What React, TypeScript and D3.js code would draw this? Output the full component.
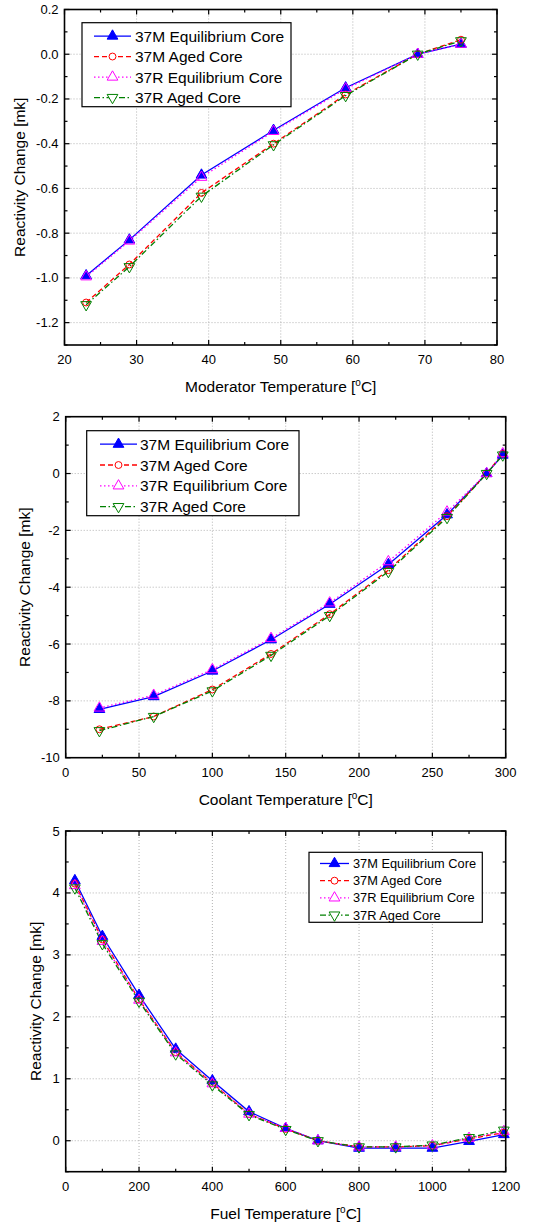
import React from 'react';
import * as d3 from 'd3';

// ---- data ----
const seriesNames = ['37M Equilibrium Core', '37M Aged Core', '37R Equilibrium Core', '37R Aged Core'];

// moderator temperature panel
const modTemp = [23, 29, 39, 49, 59, 69, 75];
const mod37MEq = [-0.99, -0.83, -0.54, -0.34, -0.15, 0.0, 0.045];
const mod37MAged = [-1.11, -0.94, -0.62, -0.4, -0.18, 0.0, 0.065];
const mod37REq = [-0.995, -0.835, -0.55, -0.345, -0.155, 0.0, 0.045];
const mod37RAged = [-1.12, -0.95, -0.635, -0.405, -0.185, 0.0, 0.06];
const modXTicks = [20, 30, 40, 50, 60, 70, 80];
const modYTicks = [-1.2, -1.0, -0.8, -0.6, -0.4, -0.2, 0.0, 0.2];

// coolant temperature panel
const coolTemp = [23, 60, 100, 140, 180, 220, 260, 287, 298];
const cool37MEq = [-8.3, -7.85, -6.95, -5.85, -4.6, -3.2, -1.45, 0.0, 0.65];
const cool37MAged = [-9.0, -8.55, -7.6, -6.35, -4.95, -3.4, -1.5, 0.0, 0.7];
const cool37REq = [-8.25, -7.8, -6.9, -5.8, -4.55, -3.1, -1.35, 0.0, 0.7];
const cool37RAged = [-9.05, -8.55, -7.65, -6.4, -5.0, -3.45, -1.55, 0.0, 0.65];
const coolXTicks = [0, 50, 100, 150, 200, 250, 300];
const coolYTicks = [-10, -8, -6, -4, -2, 0, 2];

// fuel temperature panel
const fuelTemp = [25, 100, 200, 300, 400, 500, 600, 688, 800, 900, 1000, 1100, 1195];
const fuel37MEq = [4.2, 3.3, 2.35, 1.48, 0.97, 0.47, 0.2, 0.0, -0.12, -0.12, -0.12, -0.01, 0.1];
const fuel37MAged = [4.15, 3.25, 2.28, 1.43, 0.93, 0.43, 0.19, 0.0, -0.1, -0.1, -0.08, 0.03, 0.13];
const fuel37REq = [4.12, 3.22, 2.27, 1.42, 0.92, 0.43, 0.2, 0.0, -0.1, -0.1, -0.08, 0.04, 0.15];
const fuel37RAged = [4.08, 3.18, 2.25, 1.4, 0.9, 0.42, 0.18, 0.0, -0.1, -0.1, -0.07, 0.05, 0.17];
const fuelXTicks = [0, 200, 400, 600, 800, 1000, 1200];
const fuelYTicks = [0, 1, 2, 3, 4, 5];

// ---- styles ----
const colors = ['#0000ff', '#ff0000', '#ff00ff', '#008000'];
const dashes = ['none', '5,3', '1.5,2.5', '6,2.5,1.5,2.5'];
const FONT = 'Arial, "Liberation Sans", Helvetica, sans-serif';

const marker = (i: number, s: number) => {
  if (i === 1) return d3.symbol(d3.symbolCircle, s * 0.75)() as string;
  return d3.symbol(d3.symbolTriangle, s)() as string;
};

type PanelProps = {
  xs: number[];
  series: number[][];
  box: { l: number; r: number; t: number; b: number };
  xDomain: [number, number];
  yDomain: [number, number];
  xTicks: number[];
  yTicks: number[];
  xMinorStep: number;
  yMinorStep: number;
  yFmt: (v: number) => string;
  xTitle: string;
  xTitleY: number;
  yTitleX: number;
  legend: { l: number; r: number; t: number; b: number; rowH: number; font: number; lineX0: number; lineX1: number; textX: number };
};

const Panel = (p: PanelProps) => {
  const { box } = p;
  const x = d3.scaleLinear().domain(p.xDomain).range([box.l, box.r]);
  const y = d3.scaleLinear().domain(p.yDomain).range([box.b, box.t]);
  const xMinor = d3.range(p.xDomain[0], p.xDomain[1] + 1e-9, p.xMinorStep);
  const yMinor = d3.range(Math.ceil(p.yDomain[0] / p.yMinorStep - 1e-9) * p.yMinorStep, p.yDomain[1] + 1e-9, p.yMinorStep);
  const isMajorX = (v: number) => p.xTicks.some(t => Math.abs(t - v) < 1e-6);
  const isMajorY = (v: number) => p.yTicks.some(t => Math.abs(t - v) < 1e-6);
  const line = d3.line<number>().x((_, i) => x(p.xs[i])).y(d => y(d));
  const lg = p.legend;

  return (
    <g fontFamily={FONT}>
      {/* grid */}
      {p.xTicks.filter(t => t > p.xDomain[0] && t < p.xDomain[1]).map(t => (
        <line key={'gx' + t} x1={x(t)} x2={x(t)} y1={box.t} y2={box.b} stroke="#a0a0a0" strokeWidth={0.8} strokeDasharray="1,2" />
      ))}
      {p.yTicks.filter(t => t > p.yDomain[0] && t < p.yDomain[1]).map(t => (
        <line key={'gy' + t} x1={box.l} x2={box.r} y1={y(t)} y2={y(t)} stroke="#a0a0a0" strokeWidth={0.8} strokeDasharray="1,2" />
      ))}

      {/* series */}
      {p.series.map((s, i) => (
        <path key={'l' + i} d={line(s) as string} fill="none" stroke={colors[i]} strokeWidth={1.3} strokeDasharray={dashes[i]} />
      ))}
      {p.series.map((s, i) =>
        s.map((v, j) => (
          <path
            key={'m' + i + '-' + j}
            d={marker(i, 50)}
            transform={`translate(${x(p.xs[j])},${y(v)})${i === 3 ? ' rotate(180)' : ''}`}
            fill={i === 0 ? colors[0] : 'none'}
            stroke={colors[i]}
            strokeWidth={1}
          />
        ))
      )}

      {/* ticks, inward on all sides */}
      {xMinor.map(v => {
        const len = isMajorX(v) ? 5 : 3;
        return (
          <g key={'tx' + v}>
            <line x1={x(v)} x2={x(v)} y1={box.b} y2={box.b - len} stroke="#000" strokeWidth={1.2} />
            <line x1={x(v)} x2={x(v)} y1={box.t} y2={box.t + len} stroke="#000" strokeWidth={1.2} />
          </g>
        );
      })}
      {yMinor.map(v => {
        const len = isMajorY(v) ? 5 : 3;
        return (
          <g key={'ty' + v}>
            <line x1={box.l} x2={box.l + len} y1={y(v)} y2={y(v)} stroke="#000" strokeWidth={1.2} />
            <line x1={box.r} x2={box.r - len} y1={y(v)} y2={y(v)} stroke="#000" strokeWidth={1.2} />
          </g>
        );
      })}
      <rect x={box.l} y={box.t} width={box.r - box.l} height={box.b - box.t} fill="none" stroke="#000" strokeWidth={1.6} />

      {/* tick labels */}
      {p.xTicks.map(t => (
        <text key={'xl' + t} x={x(t)} y={box.b + 19} fontSize={13} textAnchor="middle">{String(t)}</text>
      ))}
      {p.yTicks.map(t => (
        <text key={'yl' + t} x={box.l - 6} y={y(t) + 4.5} fontSize={13} textAnchor="end">{p.yFmt(t)}</text>
      ))}

      {/* axis titles */}
      <text x={(box.l + box.r) / 2} y={p.xTitleY} fontSize={15.5} textAnchor="middle">
        {p.xTitle + ' ['}
        <tspan fontSize={10} dy={-6}>o</tspan>
        <tspan dy={6}>C]</tspan>
      </text>
      <text transform={`translate(${p.yTitleX},${(box.t + box.b) / 2}) rotate(-90)`} fontSize={15.5} textAnchor="middle">
        Reactivity Change [mk]
      </text>

      {/* legend */}
      <rect x={lg.l} y={lg.t} width={lg.r - lg.l} height={lg.b - lg.t} fill="#fff" stroke="#000" strokeWidth={1.2} />
      {seriesNames.map((n, i) => {
        const ry = lg.t + lg.rowH * (i + 0.65);
        const mx = (lg.lineX0 + lg.lineX1) / 2;
        return (
          <g key={'lg' + i}>
            <line x1={lg.lineX0} x2={lg.lineX1} y1={ry} y2={ry} stroke={colors[i]} strokeWidth={1.3} strokeDasharray={dashes[i]} />
            <path
              d={marker(i, 50)}
              transform={`translate(${mx},${ry})${i === 3 ? ' rotate(180)' : ''}`}
              fill={i === 0 ? colors[0] : '#fff'}
              stroke={colors[i]}
              strokeWidth={1}
            />
            <text x={lg.textX} y={ry + lg.font * 0.36} fontSize={lg.font}>{n}</text>
          </g>
        );
      })}
    </g>
  );
};

const fmt1 = (v: number) => v.toFixed(1);
const fmt0 = (v: number) => v.toFixed(0);

export default function App() {
  return (
    <svg width={548} height={1225} style={{ position: 'absolute', left: 0, top: 0, background: '#fff' }}>
      <rect width={548} height={1225} fill="#fff" />
      <Panel
        xs={modTemp}
        series={[mod37MEq, mod37MAged, mod37REq, mod37RAged]}
        box={{ l: 64.5, r: 497, t: 9.5, b: 345 }}
        xDomain={[20, 80]}
        yDomain={[-1.3, 0.2]}
        xTicks={modXTicks}
        yTicks={modYTicks}
        xMinorStep={5}
        yMinorStep={0.1}
        yFmt={fmt1}
        xTitle="Moderator Temperature"
        xTitleY={392}
        yTitleX={25}
        legend={{ l: 82, r: 291, t: 22.7, b: 106.7, rowH: 20.5, font: 15.5, lineX0: 94, lineX1: 131, textX: 135 }}
      />
      <Panel
        xs={coolTemp}
        series={[cool37MEq, cool37MAged, cool37REq, cool37RAged]}
        box={{ l: 65.7, r: 505.7, t: 416.7, b: 757.7 }}
        xDomain={[0, 300]}
        yDomain={[-10, 2]}
        xTicks={coolXTicks}
        yTicks={coolYTicks}
        xMinorStep={25}
        yMinorStep={1}
        yFmt={fmt0}
        xTitle="Coolant Temperature"
        xTitleY={805}
        yTitleX={30}
        legend={{ l: 86.7, r: 299, t: 430.7, b: 515.7, rowH: 20.8, font: 15.5, lineX0: 100, lineX1: 137, textX: 140 }}
      />
      <Panel
        xs={fuelTemp}
        series={[fuel37MEq, fuel37MAged, fuel37REq, fuel37RAged]}
        box={{ l: 65.7, r: 505.7, t: 831, b: 1171.7 }}
        xDomain={[0, 1200]}
        yDomain={[-0.5, 5]}
        xTicks={fuelXTicks}
        yTicks={fuelYTicks}
        xMinorStep={100}
        yMinorStep={0.5}
        yFmt={fmt0}
        xTitle="Fuel Temperature"
        xTitleY={1219}
        yTitleX={41}
        legend={{ l: 309, r: 482.3, t: 852.3, b: 922.3, rowH: 17.2, font: 12.8, lineX0: 320, lineX1: 349, textX: 353 }}
      />
    </svg>
  );
}
